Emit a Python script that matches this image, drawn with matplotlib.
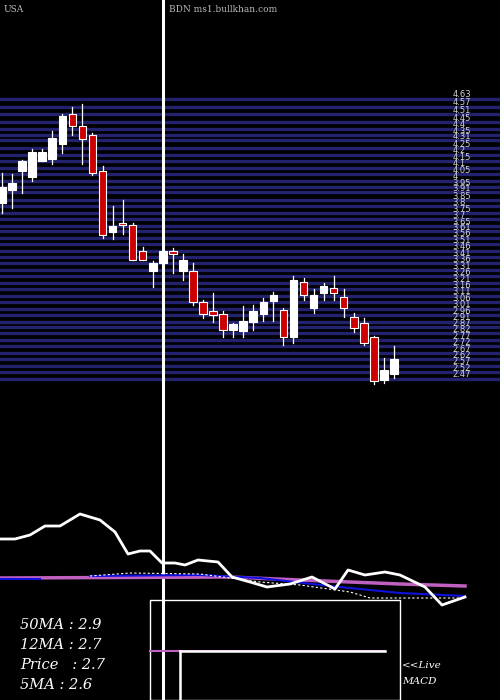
import matplotlib
matplotlib.use("Agg")
import matplotlib.pyplot as plt

# candles: open, high, low, close
opens  = [3.80,3.90,4.04,4.00,4.12,4.14,4.25,4.48,4.39,4.32,4.04,3.57,3.64,3.63,3.43,3.27,3.33,3.43,3.27,3.27,
          3.03,2.96,2.94,2.82,2.81,2.88,2.94,3.04,2.97,2.76,3.19,2.99,3.10,3.14,3.07,2.92,2.87,2.76,2.43,2.48]
highs  = [4.03,4.02,4.13,4.21,4.21,4.35,4.48,4.54,4.56,4.34,4.08,3.77,3.82,3.64,3.46,3.35,3.45,3.45,3.40,3.33,
          3.05,3.10,2.96,2.87,3.00,3.01,3.06,3.11,2.99,3.23,3.22,3.13,3.18,3.23,3.13,2.95,2.91,2.77,2.60,2.69]
lows   = [3.72,3.76,3.87,3.97,4.12,4.10,4.18,4.32,4.10,4.01,3.53,3.52,3.56,3.36,3.36,3.15,3.30,3.26,3.20,3.01,
          2.91,2.88,2.76,2.76,2.76,2.82,2.89,2.89,2.70,2.72,3.05,2.95,3.05,3.05,2.92,2.80,2.70,2.40,2.41,2.45]
closes = [3.92,3.95,4.12,4.19,4.19,4.30,4.47,4.39,4.29,4.03,3.55,3.62,3.63,3.36,3.36,3.33,3.43,3.40,3.36,3.03,
          2.94,2.93,2.82,2.86,2.89,2.96,3.03,3.09,2.76,3.20,3.09,3.09,3.16,3.10,2.99,2.83,2.72,2.42,2.51,2.59]

levels = [4.63,4.57,4.51,4.45,4.4,4.35,4.31,4.25,4.2,4.15,4.1,4.05,4,3.95,3.91,3.85,3.8,3.75,3.7,3.65,3.61,3.56,
          3.51,3.46,3.41,3.36,3.31,3.26,3.21,3.16,3.11,3.06,3.01,2.96,2.91,2.87,2.82,2.77,2.72,2.67,2.62,2.57,2.52,2.47]

# indicator panel (screen-like units)
w_x = [0,15,30,45,60,80,100,115,128,140,150,162,175,185,198,218,232,250,267,290,312,335,348,365,385,400,425,442,465]
w_y = [539,539,535,526,526,514,520,532,554,551,551,563,563,565,560,562,577,582,587,584,577,589,570,575,572,575,587,605,597]
p_x = [0,230,300,400,465]; p_y = [578,577,580,584,586]
b_x = [90,200,260,330,400,465]; b_y = [576,575,578,586,593,596]
d_x = [90,130,200,260,300,350,370,400,465]; d_y = [576,573,574,582,585,592,598,598,598]
labels = ["50MA : 2.9", "12MA : 2.7", "Price   : 2.7", "5MA : 2.6"]

fig = plt.figure(figsize=(5,7), dpi=100, facecolor='black')
ax = fig.add_axes([0,0,1,1]); ax.set_facecolor('black')
scale = 129.6
ax.set_ylim(4.63-605/scale, 4.63+95/scale)
ax.set_xlim(-0.2, 49.55)
ax.axis('off')
for lv in levels:
    ax.axhline(lv - 0.03, color='#22226e', lw=2.4, zorder=1)
    ax.text(44.8, lv, f"{lv:g}", color='#d0d0d0', fontsize=6, va='center', ha='left', zorder=2)
for i,(o,h,l,c) in enumerate(zip(opens,highs,lows,closes)):
    col = 'white' if c >= o else '#cc0000'
    ax.plot([i,i],[l,h], color='white', lw=0.9, zorder=3)
    lo, hi = min(o,c), max(o,c)
    ax.bar(i, max(hi-lo,0.01), bottom=lo, width=0.75, color=col, edgecolor='white', lw=0.8, zorder=4)
ax.axvline(16.05, color='white', lw=2.2, zorder=5)
ax.text(0.2, 4.63+85/scale, "USA", color='#bbbbbb', fontsize=6.5, family='DejaVu Serif', va='center')
ax.text(22, 4.63+85/scale, "BDN ms1.bullkhan.com", color='#bbbbbb', fontsize=6.5, family='DejaVu Serif', va='center', ha='center')

ax2 = fig.add_axes([0,0,1,1], facecolor='none')
ax2.set_xlim(0,500); ax2.set_ylim(700,0); ax2.axis('off')
ax2.plot(p_x, p_y, color='#c060c0', lw=2.5)
ax2.plot(b_x, b_y, color='#1010dd', lw=1.5)
ax2.plot([0,40],[579,579], color='#1010dd', lw=1.5)
ax2.plot(d_x, d_y, color='white', lw=0.8, ls=(0,(2,2)))
ax2.plot(w_x, w_y, color='white', lw=2)
ax2.plot([150,400,400,150,150],[700,700,600,600,700], color='white', lw=1)
ax2.plot([150,385],[651,651], color='#c060c0', lw=1.5)
ax2.plot([180,385],[651,651], color='white', lw=1.8)
ax2.plot([180,180],[651,700], color='white', lw=1.8)
for k,t in enumerate(labels):
    ax2.text(20, 625+20*k, t, color='white', fontsize=10.5, family='DejaVu Serif', style='italic', va='center')
ax2.text(402, 666, "<<Live", color='white', fontsize=7.5, family='DejaVu Serif', style='italic', va='center')
ax2.text(402, 681, "MACD", color='white', fontsize=7.5, family='DejaVu Serif', style='italic', va='center')
fig.savefig("out.png", dpi=100, facecolor='black')
